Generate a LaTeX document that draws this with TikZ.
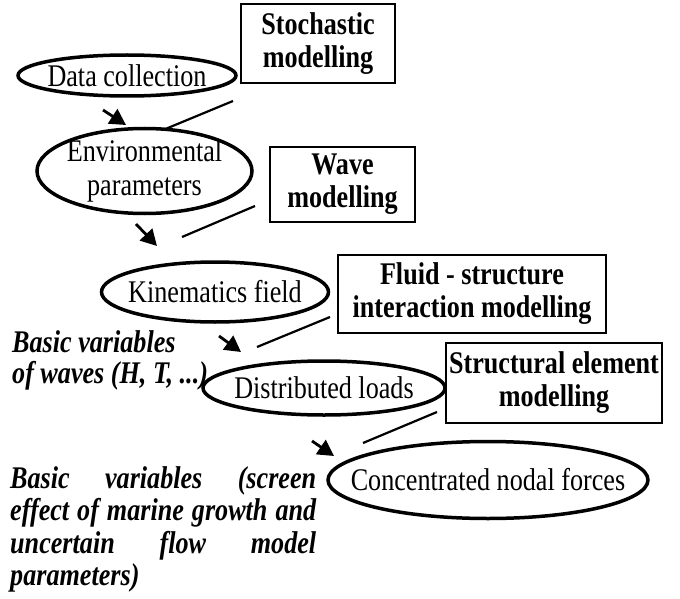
\documentclass[tikz,border=0pt]{standalone}
\usepackage{fontspec}
\setmainfont{Liberation Serif}[FakeStretch=0.83]
\usetikzlibrary{shapes.geometric,arrows.meta}
\begin{document}
\begin{tikzpicture}[x=1pt,y=-1pt,
  every node/.style={font=\fontsize{31.5}{34}\selectfont},
  ell/.style={draw, ellipse, line width=3.5pt, inner xsep=-40pt, inner ysep=-15pt, align=center},
  box/.style={draw, rectangle, line width=2.2pt, inner sep=0pt, align=center,
    font=\fontsize{31.5}{33}\selectfont\bfseries},
  link/.style={line width=2.2pt},
  arr/.style={line width=2.8pt, -{Triangle[length=16pt,width=17pt]}},
  note/.style={font=\fontsize{31.5}{32}\selectfont\bfseries\itshape, inner sep=0pt, anchor=base west}]
\useasboundingbox (0,0) rectangle (680,599);

% boxes
\node[box, minimum width=154pt, minimum height=79pt] (stoch) at (318,43.5) {Stochastic\\modelling};
\node[box, minimum width=145pt, minimum height=75pt] (wave) at (342.5,184.5) {Wave\\modelling};
\node[box, minimum width=268pt, minimum height=78pt] (fluid) at (472,294) {Fluid - structure\\interaction modelling};
\node[box, minimum width=216pt, minimum height=80pt] (struct) at (554,383) {Structural element\\modelling};

% ellipses
\node[ell, minimum width=218pt, minimum height=41pt] (data) at (127,75.5) {Data collection};
\node[ell, minimum width=215pt, minimum height=85pt] (env) at (144.5,171) {Environmental\\parameters};
\node[ell, minimum width=227pt, minimum height=60pt] (kin) at (215,292) {Kinematics field};
\node[ell, minimum width=242pt, minimum height=54pt] (dist) at (324,388) {Distributed loads};
\node[ell, minimum width=320pt, minimum height=77pt] (conc) at (488,480) {Concentrated nodal forces};

% notes
\node[note] (bv1) at (12,352) {\vtop{\baselineskip=31pt
  \hbox{Basic variables}
  \hbox{of waves (H, T, ...)}}};
\node[note] (bv2) at (10,488) {\vtop{\baselineskip=32.5pt
  \hbox{\makebox[306pt][s]{Basic variables (screen}}
  \hbox{\makebox[306pt][s]{effect of marine growth and}}
  \hbox{\makebox[306pt][s]{uncertain flow model}}
  \hbox{parameters)}}};

% coordinates for free ends
\coordinate (l1a) at (233,101); \coordinate (l1b) at (163,130);
\coordinate (l2a) at (255,206); \coordinate (l2b) at (182,237);
\coordinate (l3a) at (330,317); \coordinate (l3b) at (257,347);
\coordinate (l4a) at (437,412); \coordinate (l4b) at (363,443);
\coordinate (a1s) at (103,110); \coordinate (a1e) at (126,125);
\coordinate (a2s) at (136,224); \coordinate (a2e) at (157,246);
\coordinate (a3s) at (219,336); \coordinate (a3e) at (241,352);
\coordinate (a4s) at (312,441); \coordinate (a4e) at (334,456);

\draw[link] (l1a) -- (l1b);
\draw[link] (l2a) -- (l2b);
\draw[link] (l3a) -- (l3b);
\draw[link] (l4a) -- (l4b);
\draw[arr] (a1s) -- (a1e);
\draw[arr] (a2s) -- (a2e);
\draw[arr] (a3s) -- (a3e);
\draw[arr] (a4s) -- (a4e);
\end{tikzpicture}
\end{document}
